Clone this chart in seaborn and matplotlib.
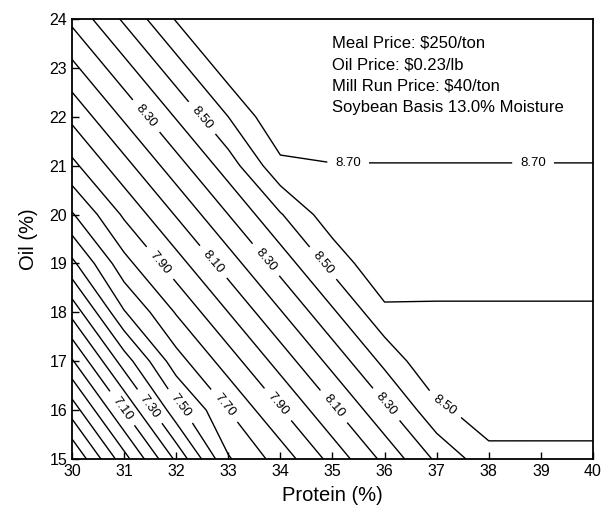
import numpy as np
import matplotlib
matplotlib.use("Agg")
import matplotlib.pyplot as plt
import seaborn as sns

# soybean value ($/bu) on a 1 % x 1 % grid
protein = [30, 31, 32, 33, 34, 35, 36, 37, 38, 39, 40]
oil = [15, 16, 17, 18, 19, 20, 21, 22, 23, 24]

value_oil15 = [6.50, 6.86, 7.22, 7.59, 7.742, 7.934, 8.126, 8.318, 8.464, 8.487, 8.487]
value_oil16 = [6.744, 7.104, 7.464, 7.70, 7.892, 8.084, 8.276, 8.474, 8.561, 8.522, 8.522]
value_oil17 = [6.988, 7.348, 7.658, 7.85, 8.042, 8.234, 8.426, 8.598, 8.557, 8.557, 8.557]
value_oil18 = [7.232, 7.592, 7.808, 8.00, 8.192, 8.384, 8.576, 8.592, 8.592, 8.592, 8.592]
value_oil19 = [7.476, 7.766, 7.958, 8.15, 8.342, 8.534, 8.69, 8.627, 8.627, 8.627, 8.627]
value_oil20 = [7.69, 7.916, 8.108, 8.30, 8.492, 8.662, 8.662, 8.662, 8.662, 8.662, 8.662]
value_oil21 = [7.874, 8.066, 8.258, 8.45, 8.675, 8.698, 8.698, 8.698, 8.698, 8.698, 8.698]
value_oil22 = [8.024, 8.216, 8.408, 8.60, 8.79, 8.733, 8.733, 8.733, 8.733, 8.733, 8.733]
value_oil23 = [8.174, 8.366, 8.558, 8.75, 8.768, 8.768, 8.768, 8.768, 8.768, 8.768, 8.768]
value_oil24 = [8.324, 8.516, 8.708, 8.795, 8.795, 8.795, 8.795, 8.795, 8.795, 8.795, 8.795]

label_levels = [7.1, 7.3, 7.5, 7.7, 7.9, 8.1, 8.3, 8.5, 8.7]
plain_levels = [6.5, 6.6, 6.7, 6.8, 6.9, 7.0, 7.2, 7.4, 7.6, 7.8, 8.0, 8.2, 8.4, 8.6]

info_lines = [
    "Meal Price: $250/ton",
    "Oil Price: $0.23/lb",
    "Mill Run Price: $40/ton",
    "Soybean Basis 13.0% Moisture",
]

# ---- style ----
sns.set_theme(style="white")
plt.rcParams['font.family'] = ['Liberation Sans', 'DejaVu Sans']

fig, ax = plt.subplots(figsize=(6.03, 5.14), dpi=100)
fig.subplots_adjust(left=0.1194, right=0.9834, top=0.963, bottom=0.107)

Z = np.array([value_oil15, value_oil16, value_oil17, value_oil18, value_oil19,
              value_oil20, value_oil21, value_oil22, value_oil23, value_oil24])

ax.contour(protein, oil, Z, levels=plain_levels, colors='black', linewidths=1.0)
cs = ax.contour(protein, oil, Z, levels=label_levels, colors='black', linewidths=1.0)

# label spots roughly where the original put them
label_spots = [
    (31.44, 22.03), (32.51, 21.99),
    (35.3, 21.07), (38.85, 21.07),
    (31.69, 19.01), (32.71, 19.03), (33.67, 19.03), (34.82, 19.01),
    (31.11, 16.15), (31.65, 16.2), (32.15, 16.15), (32.99, 16.15),
    (33.99, 16.15), (35.01, 16.06), (36.07, 16.15), (37.12, 16.06),
]
ax.clabel(cs, fmt='%.2f', fontsize=9.5, inline=True,
          inline_spacing=8, manual=label_spots, colors='black')

ax.text(0.499, 0.962, "\n".join(s.replace("$", r"\$") for s in info_lines),
        transform=ax.transAxes, ha='left', va='top', fontsize=12,
        linespacing=1.54, color='black')

ax.set_xlim(30, 40)
ax.set_ylim(15, 24)
ax.set_xticks(protein)
ax.set_yticks(oil)
ax.set_xlabel("Protein (%)", fontsize=14.5, color='black', labelpad=5)
ax.set_ylabel("Oil (%)", fontsize=14.5, color='black', labelpad=8)
ax.tick_params(direction='in', length=5, width=1, colors='black', labelsize=11.5,
               bottom=True, left=True, top=False, right=False)
for s in ax.spines.values():
    s.set_color('black')
    s.set_linewidth(1.3)

fig.savefig("out.png", dpi=100)
